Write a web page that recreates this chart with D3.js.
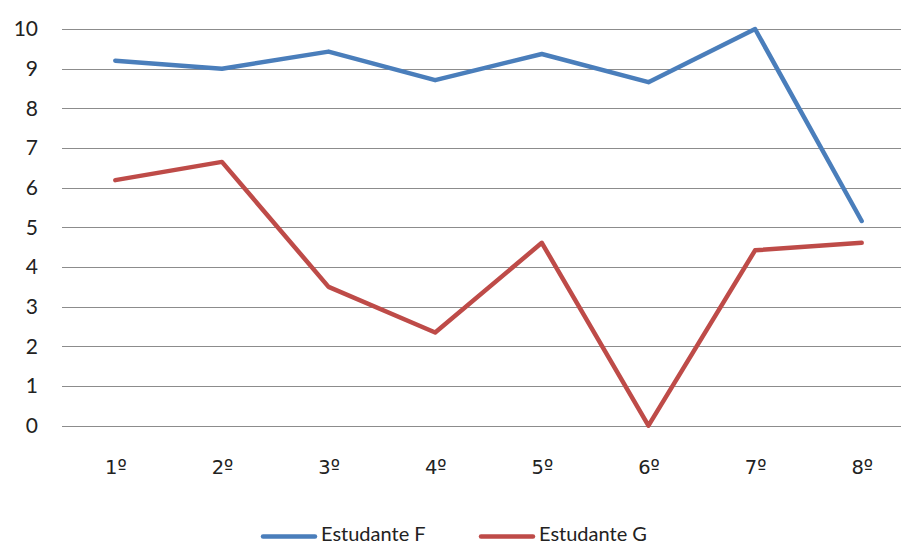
<!DOCTYPE html>
<html>
<head>
<meta charset="utf-8">
<script src="https://cdn.jsdelivr.net/npm/d3@7"></script>
<style>
  html, body { margin: 0; padding: 0; background: #fff; }
  svg { display: block; font-family: Lato, "Open Sans", sans-serif; }
</style>
</head>
<body>
<svg id="chart" width="901" height="546"></svg>
<script>
// Semesters and grades for the two students
const categories = ["1º", "2º", "3º", "4º", "5º", "6º", "7º", "8º"];
const estudanteF = [9.2, 9.0, 9.43, 8.71, 9.37, 8.66, 10.0, 5.16];
const estudanteG = [6.19, 6.65, 3.5, 2.35, 4.61, 0.0, 4.42, 4.61];
const yTicks = [0, 1, 2, 3, 4, 5, 6, 7, 8, 9, 10];
const seriesNames = ["Estudante F", "Estudante G"];
const seriesColors = ["#4A7EBB", "#BE4B48"];

const svg = d3.select("#chart");
const plot = { left: 62, right: 915, top: 29, bottom: 425.7 };

const x = d3.scalePoint()
  .domain(categories)
  .range([plot.left, plot.right])
  .padding(0.5);

const y = d3.scaleLinear()
  .domain([0, 10])
  .range([plot.bottom, plot.top]);

// Horizontal gridlines
svg.append("g")
  .selectAll("line")
  .data(yTicks)
  .join("line")
  .attr("x1", plot.left)
  .attr("x2", plot.right)
  .attr("y1", d => Math.round(y(d)) + 0.5)
  .attr("y2", d => Math.round(y(d)) + 0.5)
  .attr("stroke", "#8c8c8c")
  .attr("stroke-width", 1);

// Y axis labels
const yAxis = svg.append("g")
  .attr("transform", `translate(${plot.left - 24},0)`)
  .call(d3.axisLeft(y).tickValues(yTicks).tickSize(0).tickPadding(0));
yAxis.select(".domain").remove();
yAxis.selectAll("text")
  .attr("font-size", 21)
  .attr("font-family", "Lato, 'Open Sans', sans-serif")
  .attr("fill", "#222");

// X axis labels (ordinal sign drawn with an underlined glyph)
const xAxis = svg.append("g")
  .attr("transform", `translate(0,${plot.bottom + 34})`)
  .call(d3.axisBottom(x).tickSize(0).tickPadding(0));
xAxis.select(".domain").remove();
xAxis.selectAll("text")
  .attr("font-size", 19.5)
  .attr("font-family", "'DejaVu Sans', sans-serif")
  .attr("fill", "#222");

// Series lines
const line = d3.line()
  .x((d, i) => x(categories[i]))
  .y(d => y(d));

[estudanteF, estudanteG].forEach((vals, k) => {
  svg.append("path")
    .datum(vals)
    .attr("d", line)
    .attr("fill", "none")
    .attr("stroke", seriesColors[k])
    .attr("stroke-width", 4.5)
    .attr("stroke-linejoin", "round")
    .attr("stroke-linecap", "round");
});

// Legend
const legendX = [263, 481];
const legend = svg.append("g");
seriesNames.forEach((name, k) => {
  legend.append("line")
    .attr("x1", legendX[k])
    .attr("x2", legendX[k] + 52)
    .attr("y1", 536.5)
    .attr("y2", 536.5)
    .attr("stroke", seriesColors[k])
    .attr("stroke-width", 4.5)
    .attr("stroke-linecap", "round");
  legend.append("text")
    .attr("x", legendX[k] + 58)
    .attr("y", 541)
    .attr("font-size", 20)
    .attr("fill", "#222")
    .text(name);
});
</script>
</body>
</html>
